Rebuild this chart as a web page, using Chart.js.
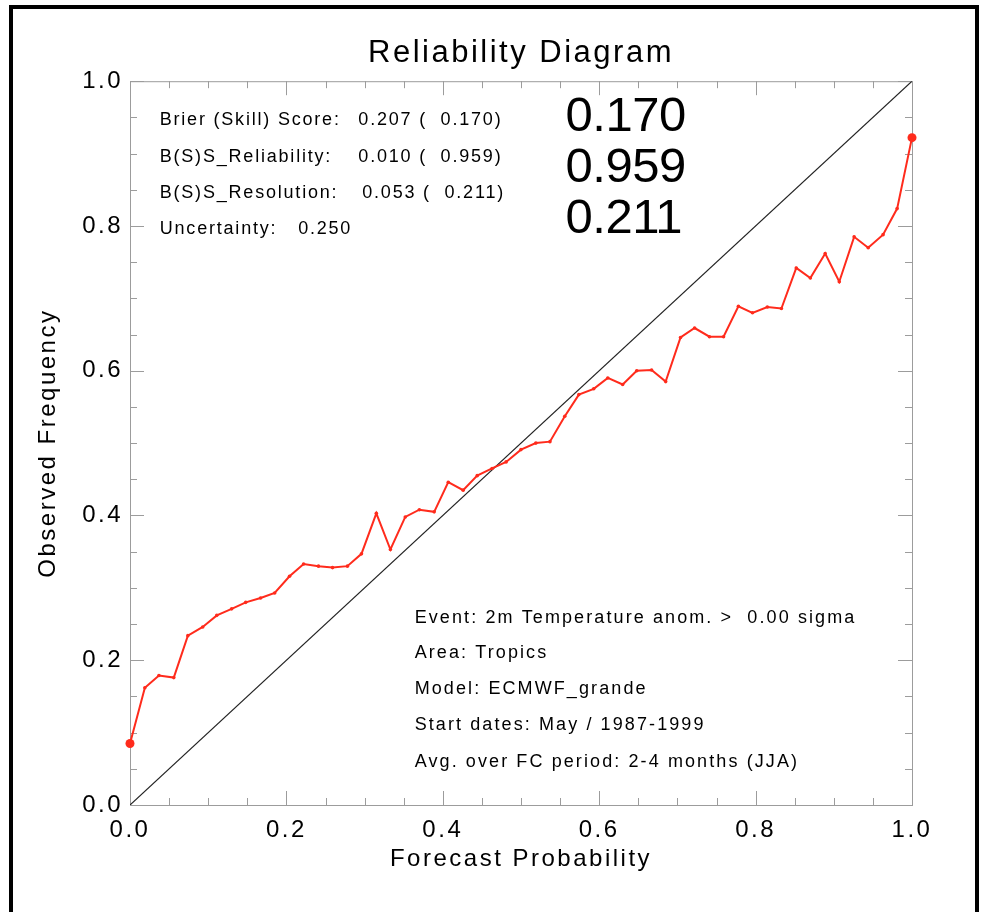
<!DOCTYPE html>
<html><head><meta charset="utf-8">
<script src="https://cdn.jsdelivr.net/npm/chart.js@4.4.1/dist/chart.umd.min.js"></script>
<style>html,body{margin:0;padding:0;background:#fff}canvas{display:block}</style>
</head><body>
<canvas id="c" width="981" height="912"></canvas>
<script>
// ---- data ----
const forecastProb = [0.000,0.019,0.037,0.056,0.074,0.093,0.111,0.130,0.148,0.167,0.185,0.204,0.222,0.241,0.259,0.278,0.296,0.315,0.333,0.352,0.370,0.389,0.407,0.426,0.444,0.463,0.481,0.500,0.519,0.537,0.556,0.574,0.593,0.611,0.630,0.648,0.667,0.685,0.704,0.722,0.741,0.759,0.778,0.796,0.815,0.833,0.852,0.870,0.889,0.907,0.926,0.944,0.963,0.981,1.000];
const observedFreq = [0.085,0.162,0.179,0.176,0.234,0.246,0.262,0.271,0.280,0.286,0.293,0.316,0.333,0.330,0.328,0.330,0.347,0.403,0.353,0.398,0.408,0.405,0.446,0.435,0.455,0.465,0.474,0.491,0.500,0.502,0.537,0.567,0.575,0.590,0.581,0.600,0.601,0.585,0.646,0.659,0.647,0.647,0.689,0.680,0.688,0.686,0.742,0.728,0.762,0.723,0.785,0.770,0.788,0.824,0.922];
const diagonalX = [0, 1];
const diagonalY = [0, 1];
const majorTicks = [0, 0.2, 0.4, 0.6, 0.8, 1.0];
const tickLabels = ['0.0', '0.2', '0.4', '0.6', '0.8', '1.0'];
const minorTicks = [0.05, 0.1, 0.15, 0.25, 0.3, 0.35, 0.45, 0.5, 0.55, 0.65, 0.7, 0.75, 0.85, 0.9, 0.95];
const titleText = 'Reliability Diagram';
const xTitle = 'Forecast Probability';
const yTitle = 'Observed Frequency';
const scoreLabels = ['Brier (Skill) Score:', 'B(S)S_Reliability:', 'B(S)S_Resolution:', 'Uncertainty:'];
const scoreValues = ['0.207 (  0.170)', '0.010 (  0.959)', '0.053 (  0.211)', '0.250'];
const skillValues = ['0.170', '0.959', '0.211'];
const infoLines = ['Event: 2m Temperature anom. >  0.00 sigma', 'Area: Tropics', 'Model: ECMWF_grande', 'Start dates: May / 1987-1999', 'Avg. over FC period: 2-4 months (JJA)'];

const FAM = "'Liberation Sans', Arial, Helvetica, sans-serif";
const RED = '#ff2b1c';

const spacing = {
  id: 'spacing',
  beforeUpdate(chart) { chart.ctx.letterSpacing = '2.5px'; },
  beforeDraw(chart) {
    const ctx = chart.ctx;
    ctx.save();
    ctx.fillStyle = '#fff';
    ctx.fillRect(0, 0, chart.width, chart.height);
    ctx.restore();
    ctx.letterSpacing = '2.5px';
  }
};

const frameTicks = {
  id: 'frameTicks',
  beforeDatasetsDraw(chart) {
    const {ctx, chartArea: a, scales: {x, y}} = chart;
    ctx.save();
    ctx.strokeStyle = '#9c9c9c';
    ctx.lineWidth = 1;
    ctx.strokeRect(a.left + 0.5, a.top + 0.5, a.right - a.left, a.bottom - a.top);
    ctx.beginPath();
    const tick = (v, len) => {
      const px = Math.round(x.getPixelForValue(v)) + 0.5;
      ctx.moveTo(px, a.bottom); ctx.lineTo(px, a.bottom - len);
      ctx.moveTo(px, a.top); ctx.lineTo(px, a.top + len);
      const py = Math.round(y.getPixelForValue(v)) + 0.5;
      ctx.moveTo(a.left, py); ctx.lineTo(a.left + len, py);
      ctx.moveTo(a.right, py); ctx.lineTo(a.right - len, py);
    };
    majorTicks.forEach(v => tick(v, 14));
    minorTicks.forEach(v => tick(v, 7));
    ctx.stroke();
    ctx.restore();
  }
};

const annotations = {
  id: 'annotations',
  afterDraw(chart) {
    const {ctx, scales: {x, y}} = chart;
    ctx.save();
    ctx.fillStyle = '#000';
    ctx.textBaseline = 'middle';
    ctx.textAlign = 'left';
    // stats block
    ctx.font = '18px ' + FAM;
    ctx.letterSpacing = '1.8px';
    const rowY = [0.946, 0.895, 0.846, 0.796];
    const valX = [0.292, 0.292, 0.297, 0.215];
    scoreLabels.forEach((t, i) => {
      ctx.fillText(t, x.getPixelForValue(0.038), y.getPixelForValue(rowY[i]));
      ctx.fillText(scoreValues[i], x.getPixelForValue(valX[i]), y.getPixelForValue(rowY[i]));
    });
    // big skill numbers
    ctx.font = '49px ' + FAM;
    ctx.letterSpacing = '-0.5px';
    const bigY = [0.950, 0.879, 0.809];
    skillValues.forEach((t, i) => {
      ctx.fillText(t, x.getPixelForValue(0.557), y.getPixelForValue(bigY[i]));
    });
    // info block
    ctx.font = '18px ' + FAM;
    ctx.letterSpacing = '2.1px';
    const infoY = [0.259, 0.210, 0.160, 0.110, 0.059];
    infoLines.forEach((t, i) => {
      ctx.fillText(t, x.getPixelForValue(0.364), y.getPixelForValue(infoY[i]));
    });
    // outer black frame
    ctx.strokeStyle = '#000';
    ctx.lineWidth = 4;
    ctx.strokeRect(11, 7, 966, 950);
    ctx.restore();
  }
};

new Chart(document.getElementById('c'), {
  type: 'scatter',
  data: {
    datasets: [
      {
        label: 'Perfect reliability',
        data: diagonalX.map((v, i) => ({x: v, y: diagonalY[i]})),
        showLine: true, borderColor: '#222', borderWidth: 1.2, pointRadius: 0, order: 2
      },
      {
        label: 'Observed frequency',
        data: forecastProb.map((v, i) => ({x: v, y: observedFreq[i]})),
        showLine: true, borderColor: RED, backgroundColor: RED, borderWidth: 2,
        pointRadius: c => (c.dataIndex === 0 || c.dataIndex === forecastProb.length - 1) ? 4.5 : 1.8,
        pointBorderWidth: 0, tension: 0, clip: false, order: 1
      }
    ]
  },
  options: {
    responsive: false,
    animation: false,
    events: [],
    layout: {padding: {left: 0, right: 69, top: 0, bottom: 0}},
    plugins: {
      legend: {display: false},
      tooltip: {enabled: false},
      title: {
        display: true, text: titleText, color: '#000', fullSize: false,
        font: {size: 31, family: FAM, weight: 'normal'},
        padding: {top: 35, bottom: 9}
      }
    },
    scales: {
      x: {
        type: 'linear', position: 'bottom', min: 0, max: 1,
        afterBuildTicks: s => { s.ticks = majorTicks.map(v => ({value: v})); },
        afterFit: s => { s.height = 107; },
        ticks: {
          callback: (v, i) => tickLabels[i], color: '#000',
          font: {size: 24, family: FAM}, padding: 11, maxRotation: 0, autoSkip: false
        },
        grid: {display: false, drawTicks: false},
        border: {display: false},
        title: {
          display: true, text: xTitle, color: '#000',
          font: {size: 24, family: FAM}, padding: {top: 0, bottom: 38}
        }
      },
      y: {
        type: 'linear', position: 'left', min: 0, max: 1,
        afterBuildTicks: s => { s.ticks = majorTicks.map(v => ({value: v})); },
        afterFit: s => { s.width = 130; },
        ticks: {
          callback: (v, i) => tickLabels[i], color: '#000',
          font: {size: 24, family: FAM}, padding: 7, autoSkip: false
        },
        grid: {display: false, drawTicks: false},
        border: {display: false},
        title: {
          display: true, text: yTitle, color: '#000',
          font: {size: 24, family: FAM}, padding: {top: 34, bottom: 0}
        }
      }
    }
  },
  plugins: [spacing, frameTicks, annotations]
});
</script>
</body></html>
